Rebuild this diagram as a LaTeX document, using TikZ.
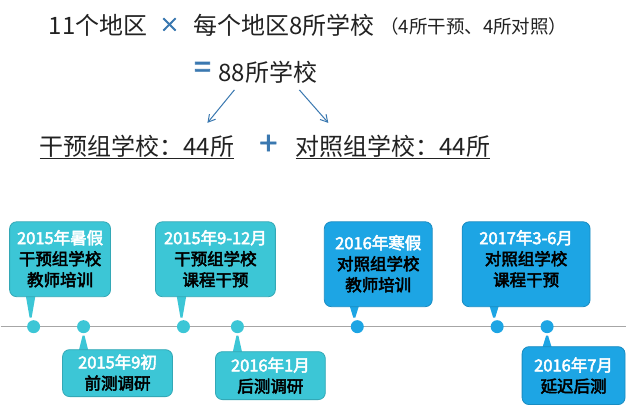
\documentclass[tikz,border=0pt]{standalone}
\usepackage{fontspec}
\usetikzlibrary{arrows.meta}
\setmainfont{Noto Sans CJK SC}[AutoFakeBold=2.5]
\newfontfamily\cjkb{Noto Sans CJK SC}[AutoFakeBold=3]
\definecolor{teal1}{HTML}{3CC6D6}
\definecolor{blue1}{HTML}{1DA5E4}
\definecolor{arr}{HTML}{3A78B0}
\definecolor{ink}{HTML}{222222}
\begin{document}
\begin{tikzpicture}[x=1pt,y=-1pt,
  big/.style={inner sep=0pt,anchor=west,font=\fontsize{24}{26}\selectfont,text=ink},
  small/.style={inner sep=0pt,anchor=west,font=\fontsize{18.5}{20}\selectfont,text=ink},
  tbox/.style={draw=#1!85!black,fill=#1,rounded corners=7pt,line width=0.8pt,minimum height=0pt},
  lbl/.style={align=center,font=\cjkb\bfseries\fontsize{16.5}{21}\selectfont,text=black},
  dot/.style={circle,fill=#1,minimum size=13pt,inner sep=0pt}]
\fill[white] (0,0) rectangle (638,416);
\node[big] (a) at (48,25) {11个地区};
\node[inner sep=0pt,font=\bfseries\fontsize{20}{20}\selectfont,text=arr] (x) at (169,25) {×};
\node[big] (b) at (193,25) {每个地区8所学校};
\node[small] (c) at (380,26) {（4所干预、4所对照）};
\node[inner sep=0pt,font=\bfseries\fontsize{30}{30}\selectfont,text=arr] (eq) at (202,70) {=};
\node[big] (d) at (218,72) {88所学校};
\node[big] (l) at (39,147) {\underline{干预组学校：44所}};
\node[inner sep=0pt,font=\bfseries\fontsize{32}{32}\selectfont,text=arr] (p) at (268,145) {+};
\node[big] (r) at (295,147) {\underline{对照组学校：44所}};
\coordinate (s1) at (234,90); \coordinate (e1) at (207,123);
\coordinate (s2) at (299,90); \coordinate (e2) at (328,123);
\draw[arr,line width=1pt,-{Straight Barb[length=7pt,width=8pt]}] (s1) -- (e1);
\draw[arr,line width=1pt,-{Straight Barb[length=7pt,width=8pt]}] (s2) -- (e2);
% timeline
\coordinate (t0) at (0,327); \coordinate (t1) at (626,327);
\draw[gray!70,line width=1.3pt] (t0) -- (t1);
\foreach \n/\x/\c in {d1/33/teal1,d2/83/teal1,d3/183/teal1,d4/237/teal1,d5/357/blue1,d6/497/blue1,d7/547/blue1}
  \node[dot=\c] (\n) at (\x,327) {};
% boxes above
\foreach \n/\xa/\xb/\yb/\c/\tx in {
  b1/9/110/297/teal1/30, b3/155/275/297/teal1/181,
  b5/324/432/307/blue1/354, b6/462/590/307/blue1/494}{
  \fill[\c] (\tx-5,\yb-2) -- (\tx+5,\yb-2) -- (\tx+1,318) -- (\tx-1,318) -- cycle;
  \draw[tbox=\c] (\xa,222) rectangle (\xb,\yb);
}
\foreach \n/\xa/\xb/\ya/\yb/\c/\tx in {
  b2/62/172/350/397/teal1/83, b4/215/325/352/400/teal1/237, b7/522/625/347/405/blue1/547}{
  \fill[\c] (\tx-1,336) -- (\tx+1,336) -- (\tx+5,\ya+2) -- (\tx-5,\ya+2) -- cycle;
  \draw[tbox=\c] (\xa,\ya) rectangle (\xb,\yb);
}
\node[lbl] (l1) at (59.5,259) {\textcolor{white}{2015年暑假}\\干预组学校\\教师培训};
\node[lbl] (l3) at (215,259) {\textcolor{white}{2015年9-12月}\\干预组学校\\课程干预};
\node[lbl] (l5) at (378,264) {\textcolor{white}{2016年寒假}\\对照组学校\\教师培训};
\node[lbl] (l6) at (526,259) {\textcolor{white}{2017年3-6月}\\对照组学校\\课程干预};
\node[lbl] (l2) at (117,373) {\textcolor{white}{2015年9初}\\前测调研};
\node[lbl] (l4) at (270,376) {\textcolor{white}{2016年1月}\\后测调研};
\node[lbl] (l7) at (573.5,376) {\textcolor{white}{2016年7月}\\延迟后测};
\end{tikzpicture}
\end{document}
